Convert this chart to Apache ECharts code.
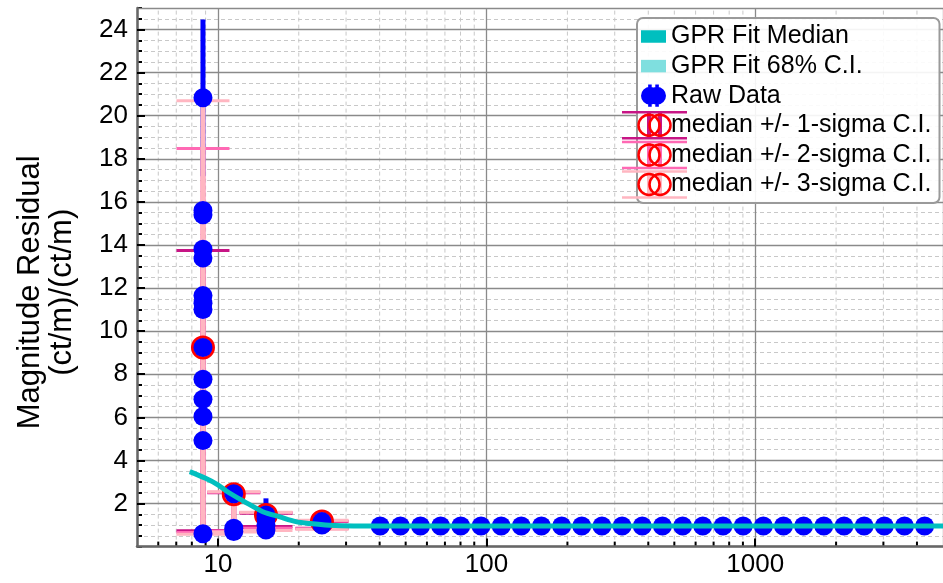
<!DOCTYPE html>
<html><head><meta charset="utf-8">
<script src="https://cdn.jsdelivr.net/npm/echarts@6/dist/echarts.min.js"></script>
<style>html,body{margin:0;padding:0;background:#fff}#c{width:943px;height:583px}</style>
</head><body><div id="c"></div>
<script>
// ---------- data ----------
const rawX = [8.8,8.8,8.8,8.8,8.8,8.8,8.8,8.8,8.8,8.8,8.8,8.8,8.8,8.8,
  11.46,11.46,11.46, 15.1,15.1,15.1,15.1, 24.4,24.4,
  40.2,47.8,56.8,67.5,80.2,95.4,113.4,134.7,160.1,190.4,226.2,268.9,319.6,379.9,
  451.6,536.9,638.0,758.6,901.6,1072,1274,1514,1800,2140,2543,3023,3593,4271];
const rawY = [20.83,15.6,15.4,13.8,13.4,11.65,11.3,11.0,9.24,7.77,6.84,6.04,4.92,0.6,
  2.45,0.85,0.7, 1.47,1.3,1.0,0.77, 1.16,1.0,
  0.96,0.96,0.96,0.96,0.96,0.96,0.96,0.96,0.96,0.96,0.96,0.96,0.96,0.96,
  0.96,0.96,0.96,0.96,0.96,0.96,0.96,0.96,0.96,0.96,0.96,0.96,0.96,0.96];
const rawErrX = [8.8, 15.1];
const rawErrLo = [17.19, 0.70];
const rawErrHi = [24.47, 2.24];

const ciBinX   = [8.8, 11.46, 15.1, 24.4];
const ciMedian = [9.24, 2.43, 1.47, 1.16];
const ci1Lo = [0.74, 0.75, 0.93, 0.85], ci1Hi = [13.74, 2.50, 1.55, 1.17];
const ci2Lo = [0.65, 0.72, 0.85, 0.83], ci2Hi = [18.48, 2.52, 1.58, 1.19];
const ci3Lo = [0.57, 0.68, 0.75, 0.80], ci3Hi = [20.70, 2.55, 1.60, 1.22];

const gprX   = [7.86, 9, 10, 11, 12.5, 14.7, 17, 19.5, 22, 26, 32, 40, 60, 100, 300, 1000, 5000];
const gprMed = [3.48, 3.17, 2.87, 2.50, 2.10, 1.62, 1.38, 1.16, 1.07, 0.99, 0.96, 0.96, 0.96, 0.96, 0.96, 0.96, 0.96];
const gprLo  = [3.40, 3.10, 2.80, 2.43, 2.04, 1.57, 1.34, 1.12, 1.03, 0.95, 0.92, 0.92, 0.92, 0.92, 0.92, 0.92, 0.92];
const gprHi  = [3.56, 3.24, 2.94, 2.57, 2.16, 1.67, 1.42, 1.20, 1.11, 1.03, 1.00, 1.00, 1.00, 1.00, 1.00, 1.00, 1.00];

const xMinorTicks = [6,7,8,9,20,30,40,50,60,70,80,90,200,300,400,500,600,700,800,900,2000,3000,4000];
const yTickLabels = ['2','4','6','8','10','12','14','16','18','20','22','24'];

const seriesNames = ['GPR Fit Median','GPR Fit 68% C.I.','Raw Data',
  'median +/- 1-sigma C.I.','median +/- 2-sigma C.I.','median +/- 3-sigma C.I.'];

// ---------- style ----------
const FONT = 'Liberation Sans';
const TEAL = '#00BFBF', TEAL_LIGHT = '#7FDFDF', BLUE = '#0000FF', RED = '#FF0000';
const CI_COLORS = ['#C71585', '#FF69B4', '#FFB6C1'];
const CAP = 26.5;

function ciRender(color) {
  return function (params, api) {
    const x = api.value(0), lo = api.value(1), hi = api.value(2);
    const a = api.coord([x, lo]), b = api.coord([x, hi]);
    return {type: 'group', children: [
      {type: 'line', shape: {x1: a[0], y1: a[1], x2: b[0], y2: b[1]}, style: {stroke: color, lineWidth: 5}},
      {type: 'line', shape: {x1: a[0] - CAP, y1: a[1], x2: a[0] + CAP, y2: a[1]}, style: {stroke: color, lineWidth: 3}},
      {type: 'line', shape: {x1: b[0] - CAP, y1: b[1], x2: b[0] + CAP, y2: b[1]}, style: {stroke: color, lineWidth: 3}}
    ]};
  };
}
function ciData(lo, hi) { return ciBinX.map((x, i) => [x, lo[i], hi[i]]); }

const chart = echarts.init(document.getElementById('c'), null, {renderer: 'canvas'});

const graphics = [];
const rowY = [125.3, 154.9, 184.5];
CI_COLORS.forEach((col, k) => {
  const yc = rowY[k];
  [649, 660].forEach(x => graphics.push({type: 'line', z: 100, shape: {x1: x, y1: yc - 13, x2: x, y2: yc + 13}, style: {stroke: col, lineWidth: 4}}));
  [-13, 13].forEach(d => graphics.push({type: 'line', z: 100, shape: {x1: 622, y1: yc + d, x2: 687, y2: yc + d}, style: {stroke: col, lineWidth: 2.5}}));
  [649, 660].forEach(x => graphics.push({type: 'circle', z: 101, shape: {cx: x, cy: yc, r: 10.5}, style: {fill: 'none', stroke: RED, lineWidth: 2.5}}));
});

const option = {
  animation: false,
  backgroundColor: '#fff',
  grid: {left: 137, right: -5.5, top: 8, bottom: 36.4, containLabel: false},
  xAxis: {
    type: 'log', logBase: 10, min: 5, max: 5000, z: 1,
    axisLine: {show: true, lineStyle: {color: '#666', width: 2.5}},
    axisTick: {show: true, inside: true, length: 8, lineStyle: {color: '#000', width: 2}},
    axisLabel: {show: true, showMinLabel: false, showMaxLabel: false, margin: 5,
      fontSize: 26, fontFamily: FONT, color: '#000', formatter: v => String(Math.round(v))},
    splitLine: {show: true, lineStyle: {color: '#8a8a8a', width: 1.3}}
  },
  yAxis: [{
    type: 'value', min: 0, max: 25, interval: 2, z: 1, position: 'left',
    name: 'Magnitude Residual\n(ct/m)/(ct/m)', nameLocation: 'middle', nameGap: 59,
    nameTextStyle: {fontSize: 31, lineHeight: 32, fontFamily: FONT, color: '#000', padding: [0, 30, 0, 0]},
    axisLine: {show: true, lineStyle: {color: '#666', width: 2.5}},
    axisTick: {show: true, inside: true, length: 8, lineStyle: {color: '#000', width: 2}},
    axisLabel: {show: true, showMinLabel: false, showMaxLabel: false, margin: 9,
      fontSize: 26, fontFamily: FONT, color: '#000',
      formatter: v => (yTickLabels.indexOf(String(v)) >= 0 ? String(v) : '')},
    splitLine: {show: true, lineStyle: {color: '#8a8a8a', width: 1.3}}
  }, {
    type: 'value', min: 0, max: 25, interval: 0.5, z: 0.8, position: 'left',
    axisLine: {show: false},
    axisTick: {show: true, inside: true, length: 5, lineStyle: {color: '#000', width: 2}},
    axisLabel: {show: false},
    splitLine: {show: true, lineStyle: {color: '#c8c8c8', width: 1, type: [4, 3]}}
  }],
  legend: {
    orient: 'vertical', left: 637, top: 18, padding: [6, 8, 6, 4],
    itemGap: 4.6, itemWidth: 25, itemHeight: 25,
    backgroundColor: 'rgba(255,255,255,0.9)', borderColor: '#9a9a9a', borderWidth: 2, borderRadius: 6,
    textStyle: {fontSize: 25, lineHeight: 25, fontFamily: FONT, color: '#000'},
    selectedMode: false,
    data: [
      {name: seriesNames[0], icon: 'path://M0,0h26v13h-26z', itemStyle: {color: TEAL}},
      {name: seriesNames[1], icon: 'path://M0,0h26v13h-26z', itemStyle: {color: TEAL_LIGHT}},
      {name: seriesNames[2], icon: 'path://M0,12.5a10,10 0 1,1 20,0a10,10 0 1,1 -20,0zM8,12.5a10,10 0 1,1 20,0a10,10 0 1,1 -20,0zM8,0h4v25h-4zM16,0h4v25h-4z', itemStyle: {color: BLUE}},
      {name: seriesNames[3], icon: 'rect', itemStyle: {color: 'rgba(0,0,0,0)'}},
      {name: seriesNames[4], icon: 'rect', itemStyle: {color: 'rgba(0,0,0,0)'}},
      {name: seriesNames[5], icon: 'rect', itemStyle: {color: 'rgba(0,0,0,0)'}}
    ]
  },
  graphic: graphics,
  series: [
    { // minor x grid lines and ticks
      type: 'custom', name: 'xminor', z: 0.5, silent: true,
      data: xMinorTicks.map(v => [v, 0]), encode: {x: 0, y: 1},
      renderItem: function (params, api) {
        const v = api.value(0);
        const top = api.coord([v, 25]), bot = api.coord([v, 0]);
        return {type: 'group', children: [
          {type: 'line', shape: {x1: bot[0], y1: bot[1], x2: top[0], y2: top[1]}, style: {stroke: '#c8c8c8', lineWidth: 1, lineDash: [4, 3]}},
          {type: 'line', shape: {x1: bot[0], y1: bot[1], x2: bot[0], y2: bot[1] - 5}, style: {stroke: '#000', lineWidth: 2}}
        ]};
      }
    },
    { // raw data error bars
      type: 'custom', name: 'Raw Data', z: 2, silent: true,
      data: rawErrX.map((x, i) => [x, rawErrLo[i], rawErrHi[i]]), encode: {x: 0, y: [1, 2]},
      renderItem: function (params, api) {
        const x = api.value(0);
        const a = api.coord([x, api.value(1)]), b = api.coord([x, api.value(2)]);
        return {type: 'line', shape: {x1: a[0], y1: a[1], x2: b[0], y2: b[1]}, style: {stroke: BLUE, lineWidth: 5}};
      }
    },
    {type: 'custom', name: seriesNames[3], z: 3, data: ciData(ci1Lo, ci1Hi), encode: {x: 0, y: [1, 2]}, renderItem: ciRender(CI_COLORS[0])},
    {type: 'custom', name: seriesNames[4], z: 3.1, data: ciData(ci2Lo, ci2Hi), encode: {x: 0, y: [1, 2]}, renderItem: ciRender(CI_COLORS[1])},
    {type: 'custom', name: seriesNames[5], z: 3.2, data: ciData(ci3Lo, ci3Hi), encode: {x: 0, y: [1, 2]}, renderItem: ciRender(CI_COLORS[2])},
    { // red median markers
      type: 'scatter', name: seriesNames[5], z: 4, symbol: 'circle', symbolSize: 21,
      itemStyle: {color: 'rgba(0,0,0,0)', borderColor: RED, borderWidth: 3, opacity: 1},
      data: ciBinX.map((x, i) => [x, ciMedian[i]])
    },
    {
      type: 'scatter', name: seriesNames[2], z: 5, symbol: 'circle', symbolSize: 19,
      itemStyle: {color: BLUE, opacity: 1},
      data: rawX.map((x, i) => [x, rawY[i]])
    },
    {
      type: 'custom', name: seriesNames[1], z: 6, silent: true,
      data: [[gprX[0], gprMed[0]]], encode: {x: 0, y: 1},
      renderItem: function (params, api) {
        const pts = [];
        for (let i = 0; i < gprX.length; i++) pts.push(api.coord([gprX[i], gprHi[i]]));
        for (let i = gprX.length - 1; i >= 0; i--) pts.push(api.coord([gprX[i], gprLo[i]]));
        return {type: 'polygon', shape: {points: pts}, style: {fill: 'rgba(0,191,191,0.5)'}};
      }
    },
    {
      type: 'line', name: seriesNames[0], z: 7, smooth: 0.3, showSymbol: false, symbol: 'none',
      lineStyle: {color: TEAL, width: 5}, itemStyle: {color: TEAL},
      data: gprX.map((x, i) => [x, gprMed[i]])
    }
  ]
};
chart.setOption(option);
</script></body></html>
